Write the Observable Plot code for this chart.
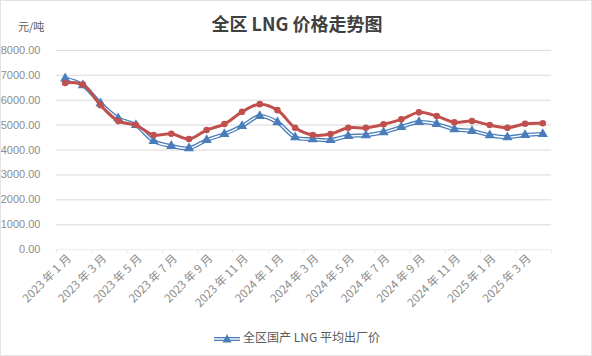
<!DOCTYPE html>
<html>
<head>
<meta charset="utf-8">
<script src="https://cdn.jsdelivr.net/npm/d3@7"></script>
<script src="https://cdn.jsdelivr.net/npm/@observablehq/plot@0.6"></script>
<style>
  html, body { margin: 0; padding: 0; background: #fff; }
  #chart { position: relative; width: 590px; height: 354px; border: 1px solid #e3e3e3; overflow: hidden; font-family: "Liberation Sans", "Noto Sans CJK SC", sans-serif; }
  #chart svg.plot { position: absolute; left: -1px; top: -1px; }
  #title { position: absolute; left: 0; width: 592px; top: 10px; text-align: center; font-family: "Noto Sans CJK SC", sans-serif; font-weight: bold; font-size: 18px; color: #404040; line-height: 24px; }
  #unit { position: absolute; left: 17px; top: 17px; font-family: "Noto Sans CJK SC", sans-serif; font-size: 11px; color: #595959; }
  #legend { position: absolute; left: 0; width: 592px; top: 327px; text-align: center; font-family: "Noto Sans CJK SC", sans-serif; font-size: 12px; color: #595959; line-height: 18px; }
  #legend svg { vertical-align: middle; margin-right: 3px; }
</style>
</head>
<body>
<div id="chart">
  <div id="title">全区 LNG 价格走势图</div>
  <div id="unit">元/吨</div>
  <div id="legend"></div>
</div>
<script>
const months = [
  "2023 年 1 月","2023 年 2 月","2023 年 3 月","2023 年 4 月","2023 年 5 月","2023 年 6 月",
  "2023 年 7 月","2023 年 8 月","2023 年 9 月","2023 年 10 月","2023 年 11 月","2023 年 12 月",
  "2024 年 1 月","2024 年 2 月","2024 年 3 月","2024 年 4 月","2024 年 5 月","2024 年 6 月",
  "2024 年 7 月","2024 年 8 月","2024 年 9 月","2024 年 10 月","2024 年 11 月","2024 年 12 月",
  "2025 年 1 月","2025 年 2 月","2025 年 3 月","2025 年 4 月"
];
// 全区国产 LNG 平均出厂价 (blue, triangles)
const bluePrice = [6870, 6600, 5870, 5270, 5000, 4360, 4160, 4070, 4400, 4640, 4960, 5360,
                   5110, 4510, 4430, 4400, 4560, 4590, 4710, 4920, 5120, 5040, 4830, 4760,
                   4590, 4510, 4600, 4640];
// second series (red, circles)
const redPrice = [6690, 6630, 5800, 5160, 5000, 4600, 4650, 4440, 4800, 5040, 5530, 5840,
                  5600, 4890, 4600, 4640, 4890, 4890, 5030, 5230, 5510, 5360, 5110, 5160,
                  5000, 4890, 5050, 5070];
const yTicks = [0, 1000, 2000, 3000, 4000, 5000, 6000, 7000, 8000];
const legendLabel = "全区国产 LNG 平均出厂价";

const BLUE = "#4a7ebb";
const RED = "#c0504d";

const data = months.map((m, i) => ({i, m, blue: bluePrice[i], red: redPrice[i]}));
const labelIdx = d3.range(0, months.length, 2);
const bounds = d3.range(-0.5, months.length + 0.5, 2);

const chart = Plot.plot({
  width: 592,
  height: 356,
  marginTop: 50,
  marginBottom: 106,
  marginLeft: 56,
  marginRight: 39,
  style: {fontFamily: "'Liberation Sans', 'Noto Sans CJK SC', sans-serif", fontSize: "11px", color: "#8c8c8c", background: "transparent"},
  x: {type: "linear", domain: [-0.5, months.length - 0.5]},
  y: {domain: [0, 8000]},
  marks: [
    Plot.ruleY(yTicks.filter(d => d > 0), {stroke: "#d9d9d9", strokeWidth: 1}),
    Plot.ruleY([0], {stroke: "#ececec", strokeWidth: 1}),
    Plot.axisY(yTicks, {tickFormat: d => d.toFixed(2), tickSize: 0, tickPadding: 16, fontSize: 11, label: null}),
    Plot.axisX(bounds, {tickFormat: () => "", tickSize: 4, stroke: "#e6e6e6", label: null}),
    Plot.axisX(labelIdx, {tickFormat: i => months[i], tickSize: 0, tickRotate: -45, tickPadding: 7, dx: 4, fontSize: 11.5, fontFamily: "'Noto Sans CJK SC', sans-serif", label: null}),
    Plot.line(data, {x: "i", y: "blue", stroke: BLUE, strokeWidth: 4, curve: "catmull-rom"}),
    Plot.line(data, {x: "i", y: "blue", stroke: "#fff", strokeWidth: 1.4, curve: "catmull-rom"}),
    Plot.dot(data, {x: "i", y: "blue", symbol: "triangle", r: 3.8, fill: BLUE, stroke: null}),
    Plot.line(data, {x: "i", y: "red", stroke: RED, strokeWidth: 3, curve: "catmull-rom"}),
    Plot.dot(data, {x: "i", y: "red", r: 3.3, fill: RED, stroke: null})
  ]
});
chart.classList.add("plot");
document.getElementById("chart").appendChild(chart);

const leg = document.getElementById("legend");
leg.innerHTML =
  '<svg width="26" height="12" viewBox="0 0 26 12">' +
  '<line x1="0" y1="6" x2="26" y2="6" stroke="' + BLUE + '" stroke-width="4"/>' +
  '<line x1="0" y1="6" x2="26" y2="6" stroke="#fff" stroke-width="1.4"/>' +
  '<path d="M13,1 L17.5,9.5 L8.5,9.5 Z" fill="' + BLUE + '"/></svg>' +
  '<span></span>';
leg.querySelector("span").textContent = legendLabel;
</script>
</body>
</html>
